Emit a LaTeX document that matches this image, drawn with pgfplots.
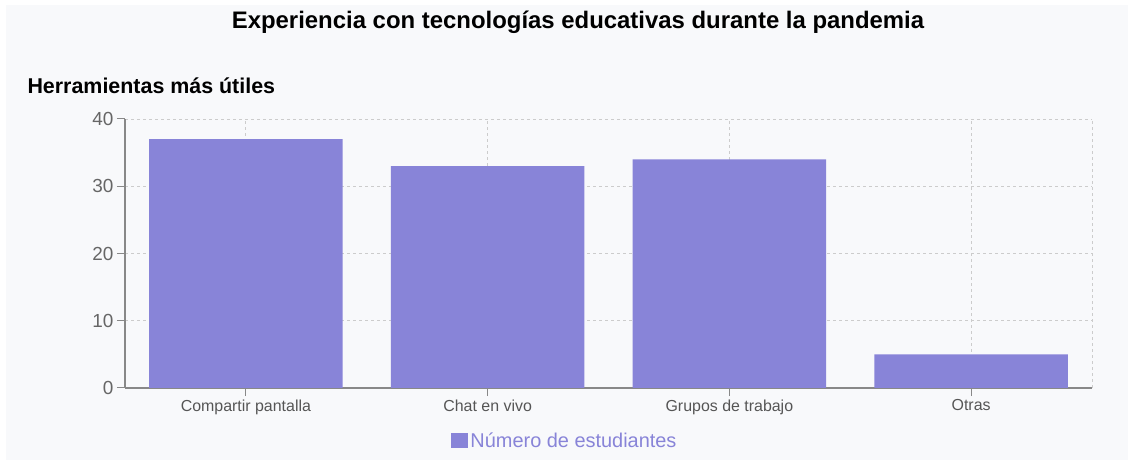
\documentclass[border=0pt]{standalone}
\usepackage{fontspec}
\setmainfont{Liberation Sans}
\usepackage{pgfplots}
\pgfplotsset{compat=1.18}
\definecolor{barc}{HTML}{8884D8}
\definecolor{bgc}{HTML}{F8F9FB}
\definecolor{gridc}{HTML}{CCCCCC}
\definecolor{axisc}{HTML}{888888}
\definecolor{ticklab}{HTML}{666666}
\definecolor{xlab}{HTML}{555555}
\begin{document}
\begin{tikzpicture}
\fill[white] (0bp,0bp) rectangle (1134bp,465bp);
\fill[bgc] (6bp,5bp) rectangle (1128bp,460bp);
\node[font=\fontsize{24}{28}\selectfont\bfseries, text=black] at (578bp,443bp) {Experiencia con tecnologías educativas durante la pandemia};
\node[font=\fontsize{21.5}{25}\selectfont\bfseries, text=black, anchor=west] at (24bp,379bp) {Herramientas más útiles};
\begin{axis}[
  at={(125bp,77bp)}, anchor=south west,
  width=967bp, height=269bp, scale only axis,
  xmin=-0.5, xmax=3.5, ymin=0, ymax=40,
  ytick={0,10,20,30,40},
  xtick={0,1,2,3},
  xticklabels={Compartir pantalla, Chat en vivo, Grupos de trabajo, Otras},
  axis lines=left,
  axis line style={-, draw=axisc, line width=1.2bp},
  tick align=outside,
  major tick length=8bp,
  tick style={draw=axisc, line width=1bp},
  xmajorgrids, ymajorgrids,
  grid style={draw=gridc, line width=0.8bp, dash pattern=on 3bp off 3bp},
  /pgf/number format/assume math mode=true,
  y tick label style={font=\fontsize{19}{22}\selectfont, text=ticklab},
  x tick label style={font=\fontsize{16}{19}\selectfont, text=xlab},
  ybar, bar width=0.8, bar shift=0pt,
  legend style={at={(0.455,-0.197)}, anchor=center, draw=none, fill=none,
    font=\fontsize{20}{24}\selectfont, text=barc},
  legend image code/.code={\fill[barc] (0bp,-7bp) rectangle (17bp,8bp);},
  clip=false,
]
\addplot[fill=barc, draw=none] coordinates {(0,37) (1,33) (2,34) (3,5)};
\addlegendentry{Número de estudiantes}
\draw[draw=gridc, line width=0.8bp, dash pattern=on 3bp off 3bp] (axis cs:3.5,0) -- (axis cs:3.5,40);
\end{axis}
\end{tikzpicture}
\end{document}
